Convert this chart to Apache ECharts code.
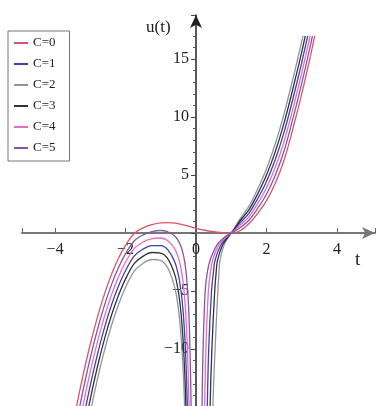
<!DOCTYPE html>
<html>
<head>
<meta charset="utf-8">
<script src="https://cdn.jsdelivr.net/npm/echarts@6/dist/echarts.min.js"></script>
<style>
  html, body { margin: 0; padding: 0; background: #fff; }
  #chart01 { width: 377px; height: 406px; }
</style>
</head>
<body>
<div id="chart01"></div>
<script>
// legend names and line colours
var cNames = ['C=0', 'C=1', 'C=2', 'C=3', 'C=4', 'C=5'];
var cColors = ['#d9546a', '#3f3fae', '#8c94a8', '#333333', '#e46bc6', '#8256a8'];

// [t, u] points; each curve with C>0 has a branch left and right of t=0
var c0 = [[-3.6,-18.2],[-3.4,-15.07],[-3.2,-12.17],[-3.0,-9.57],[-2.8,-7.27],[-2.6,-5.27],[-2.4,-3.57],[-2.2,-2.17],[-2.0,-1.05],[-1.75,-0.02],[-1.5,0.45],[-1.25,0.72],[-1.0,0.87],[-0.8,0.89],[-0.6,0.85],[-0.4,0.73],[-0.2,0.57],[0,0.4],[0.25,0.24],[0.5,0.11],[0.75,0.03],[1.0,0],[1.25,0.2],[1.5,0.8],[1.75,1.7],[2.0,2.8],[2.25,4.3],[2.5,6.3],[2.75,9.0],[3.0,12.0],[3.25,15.3],[3.37,17.0]];

var c1Left = [[-3.4,-19.36],[-3.2,-16.07],[-3.0,-13.11],[-2.8,-10.48],[-2.6,-8.18],[-2.4,-6.21],[-2.2,-4.57],[-2.0,-3.23],[-1.75,-1.97],[-1.5,-1.38],[-1.25,-1.08],[-1.0,-1.08],[-0.8,-1.45],[-0.6,-2.51],[-0.5,-3.63],[-0.45,-4.48],[-0.4,-5.69],[-0.35,-7.44],[-0.3,-10.12],[-0.25,-14.57],[-0.2,-22.68]];
var c1Right = [[0.29,-20],[0.32,-14.9],[0.36,-10],[0.44,-5],[0.49,-3.5],[0.54,-2.33],[0.7,-1.05],[0.85,-0.47],[1.0,0],[1.25,0.88],[1.5,1.7],[1.75,2.96],[2.0,4.45],[2.25,6.34],[2.5,8.7],[2.75,11.58],[3.0,14.7],[3.17,17.0]];

var c2Left = [[-3.4,-22.22],[-3.2,-18.67],[-3.0,-15.47],[-2.8,-12.62],[-2.6,-10.12],[-2.4,-7.97],[-2.2,-6.17],[-2.0,-4.68],[-1.75,-3.27],[-1.5,-2.6],[-1.25,-2.28],[-1.0,-2.38],[-0.8,-3.01],[-0.6,-4.75],[-0.5,-6.58],[-0.45,-7.98],[-0.4,-9.97],[-0.35,-12.86],[-0.3,-17.3]];
var c2Right = [[0.45,-20],[0.48,-14.9],[0.54,-10],[0.62,-5],[0.65,-3.5],[0.68,-2.33],[0.8,-1.0],[0.9,-0.44],[1.0,0],[1.25,1.22],[1.5,2.3],[1.75,3.8],[2.0,5.55],[2.25,7.7],[2.5,10.3],[2.75,13.3],[3.0,16.5],[3.036,17.0]];

var c3Left = [[-3.4,-20.79],[-3.2,-17.37],[-3.0,-14.29],[-2.8,-11.55],[-2.6,-9.15],[-2.4,-7.09],[-2.2,-5.37],[-2.0,-3.95],[-1.75,-2.62],[-1.5,-1.99],[-1.25,-1.68],[-1.0,-1.73],[-0.8,-2.23],[-0.6,-3.63],[-0.5,-5.1],[-0.45,-6.23],[-0.4,-7.83],[-0.35,-10.15],[-0.3,-13.71],[-0.25,-19.63]];
var c3Right = [[0.37,-20],[0.4,-14.9],[0.45,-10],[0.53,-5],[0.57,-3.45],[0.61,-2.33],[0.75,-1.05],[0.88,-0.45],[1.0,0],[1.25,1.06],[1.5,2.0],[1.75,3.38],[2.0,5.0],[2.25,7.02],[2.5,9.5],[2.75,12.44],[3.0,15.6],[3.1,17.0]];

var c4Left = [[-3.4,-17.93],[-3.2,-14.77],[-3.0,-11.93],[-2.8,-9.41],[-2.6,-7.21],[-2.4,-5.33],[-2.2,-3.77],[-2.0,-2.5],[-1.75,-1.32],[-1.5,-0.77],[-1.25,-0.48],[-1.0,-0.43],[-0.8,-0.67],[-0.6,-1.39],[-0.5,-2.15],[-0.45,-2.73],[-0.4,-3.55],[-0.35,-4.73],[-0.3,-6.53],[-0.25,-9.51],[-0.2,-14.93],[-0.16,-23.4]];
var c4Right = [[0.22,-20],[0.245,-14.9],[0.28,-10],[0.35,-5],[0.4,-3.6],[0.47,-2.33],[0.65,-1.0],[0.82,-0.45],[1.0,0],[1.25,0.68],[1.5,1.4],[1.75,2.54],[2.0,3.9],[2.25,5.66],[2.5,7.9],[2.75,10.72],[3.0,13.8],[3.24,17.0]];

var c5Left = [[-3.4,-16.5],[-3.2,-13.47],[-3.0,-10.75],[-2.8,-8.34],[-2.6,-6.24],[-2.4,-4.45],[-2.2,-2.97],[-2.0,-1.78],[-1.75,-0.67],[-1.5,-0.16],[-1.25,0.12],[-1.0,0.22],[-0.8,0.11],[-0.6,-0.27],[-0.5,-0.68],[-0.45,-0.98],[-0.4,-1.41],[-0.35,-2.02],[-0.3,-2.94],[-0.25,-4.45],[-0.2,-7.18],[-0.15,-13.05],[-0.12,-20.6]];
var c5Right = [[0.15,-20],[0.17,-14.9],[0.2,-10],[0.26,-5],[0.32,-3.4],[0.4,-2.33],[0.6,-1.0],[0.8,-0.38],[1.0,0],[1.25,0.45],[1.5,1.1],[1.75,2.12],[2.0,3.35],[2.25,4.98],[2.5,7.1],[2.75,9.86],[3.0,12.9],[3.25,16.22],[3.305,17.0]];

var serif = "'Liberation Serif', 'DejaVu Serif', serif";

// axis ranges: origin sits at (196, 233) in a grid 22..375 x 15..407
var tMin = -4.94, tMax = 5.08;
var uMin = -15, uMax = 18.8;

function curve(i, data) {
  return {
    name: cNames[i],
    type: 'line',
    data: data,
    symbol: 'none',
    showSymbol: false,
    smooth: 0.35,
    clip: true,
    color: cColors[i],
    lineStyle: { color: cColors[i], width: 1.3 }
  };
}

function minus(v) {
  return String(v).replace('-', '\u2212');
}

var chartDom = document.getElementById('chart01');
var myChart = echarts.init(chartDom);
var option;

option = {
  animation: false,
  backgroundColor: '#fff',
  grid: { left: 22, right: 2, top: 15, bottom: -1, containLabel: false, outerBoundsMode: 'none' },
  legend: {
    data: cNames,
    orient: 'vertical',
    left: 8,
    top: 31,
    padding: [5, 14, 6, 6],
    icon: 'rect',
    itemWidth: 14,
    itemHeight: 2,
    itemGap: 7,
    borderColor: '#777',
    borderWidth: 1,
    backgroundColor: '#fff',
    textStyle: { fontFamily: serif, fontSize: 13, lineHeight: 14, color: '#222' }
  },
  xAxis: {
    type: 'value',
    min: tMin,
    max: tMax,
    splitNumber: 5,
    offset: -174,
    z: 3,
    axisLine: {
      onZero: false,
      symbol: ['none', 'arrow'],
      symbolSize: [9, 13],
      lineStyle: { color: '#777', width: 2 }
    },
    axisTick: { show: true, inside: true, length: 5, lineStyle: { color: '#666' } },
    axisLabel: {
      margin: 9,
      fontFamily: serif,
      fontSize: 16,
      color: '#222',
      formatter: function (v) {
        return (Number.isInteger(v) && v % 2 === 0) ? minus(v) : '';
      }
    },
    splitLine: { show: false }
  },
  yAxis: {
    type: 'value',
    min: uMin,
    max: uMax,
    interval: 5,
    offset: -174,
    z: 3,
    axisLine: {
      onZero: false,
      symbol: ['none', 'arrow'],
      symbolSize: [9, 13],
      lineStyle: { color: '#222', width: 1.5 }
    },
    axisTick: { show: true, length: 5, lineStyle: { color: '#444' } },
    minorTick: { show: true, splitNumber: 5, length: 3, lineStyle: { color: '#555' } },
    axisLabel: {
      margin: 7,
      fontFamily: serif,
      fontSize: 16,
      color: '#222',
      formatter: function (v) {
        return (Number.isInteger(v) && v % 5 === 0 && v !== 0 && v > -15) ? minus(v) : '';
      }
    },
    splitLine: { show: false }
  },
  graphic: [
    { type: 'text', left: 146, top: 19, style: { text: 'u(t)', fontFamily: serif, fontSize: 17, fill: '#222' } },
    { type: 'text', left: 355, top: 251, style: { text: 't', fontFamily: serif, fontSize: 19, fill: '#222' } }
  ],
  series: [
    curve(0, c0),
    curve(1, c1Left), curve(1, c1Right),
    curve(2, c2Left), curve(2, c2Right),
    curve(3, c3Left), curve(3, c3Right),
    curve(4, c4Left), curve(4, c4Right),
    curve(5, c5Left), curve(5, c5Right)
  ]
};

option && myChart.setOption(option);
</script>
</body>
</html>
